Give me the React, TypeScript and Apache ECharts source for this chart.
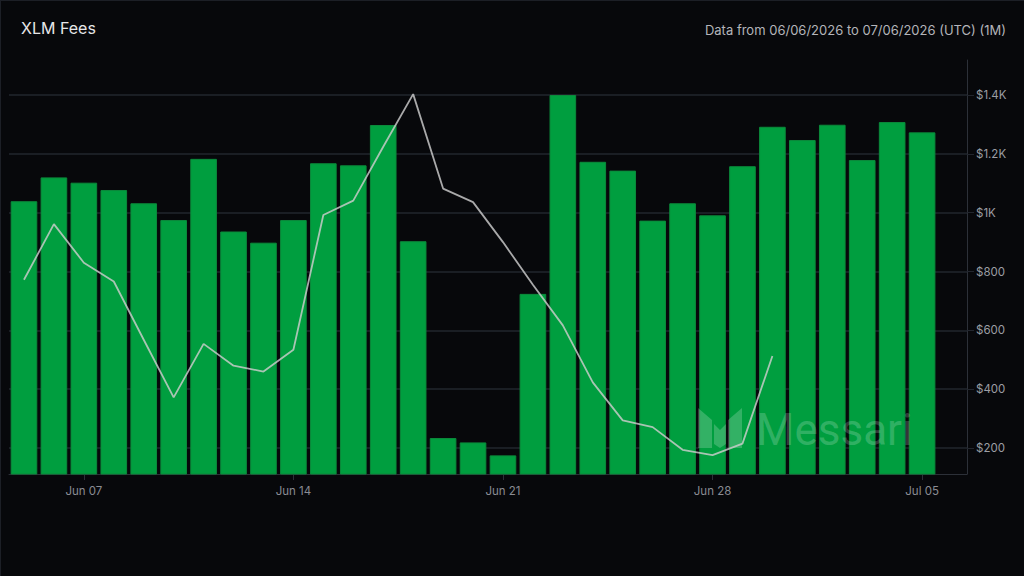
import React, { useEffect, useRef } from "react";
import * as echarts from "echarts";

const dates = [
  "Jun 05", "Jun 06", "Jun 07", "Jun 08", "Jun 09", "Jun 10", "Jun 11", "Jun 12",
  "Jun 13", "Jun 14", "Jun 15", "Jun 16", "Jun 17", "Jun 18", "Jun 19", "Jun 20",
  "Jun 21", "Jun 22", "Jun 23", "Jun 24", "Jun 25", "Jun 26", "Jun 27", "Jun 28",
  "Jun 29", "Jun 30", "Jul 01", "Jul 02", "Jul 03", "Jul 04", "Jul 05", "Jul 06",
];

const fees = [
  1039, 1120, 1102, 1077, 1032, 975, 1183, 936, 898, 975, 1168, 1161, 1298, 903,
  234, 219, 175, 724, 1400, 1173, 1143, 973, 1032, 991, 1158, 1292, 1247, 1299,
  1179, 1308, 1273, null,
];

const trend = [
  772, 961, 830, 766, 568, 372, 554, 480, 460, 534, 992, 1041, 1224, 1403, 1082,
  1036, 900, 755, 617, 423, 294, 271, 194, 176, 215, 513, null, null, null, null,
  null, null,
];

const xLabelDates = ["Jun 07", "Jun 14", "Jun 21", "Jun 28", "Jul 05"];
const yTickValues = [200, 400, 600, 800, 1000, 1200, 1400];
const yMin = 111.7;
const yMax = 1519;

const titleText = "XLM Fees";
const rangeText = "Data from 06/06/2026 to 07/06/2026 (UTC) (1M)";
const watermarkText = "Messari";

const logoPath =
  "M0 0 L14 12 L14 40 L0 40 Z M44 0 L44 40 L30 40 L30 12 Z M16 16 L22 22 L28 16 L28 36 L22 40 L16 36 Z";

let logoRegistered = false;
function registerLogo() {
  if (logoRegistered) return;
  echarts.graphic.registerShape(
    "messariLogo",
    echarts.graphic.extendPath(logoPath, {}) as any
  );
  logoRegistered = true;
}

function fmtY(v: number) {
  if (v >= 1000) {
    const k = v / 1000;
    return "$" + (Number.isInteger(k) ? k.toString() : k.toFixed(1)) + "K";
  }
  return "$" + v;
}

export default function App() {
  const ref = useRef<HTMLDivElement>(null);

  useEffect(() => {
    registerLogo();
    const chart = echarts.init(ref.current!, null, { renderer: "svg" });
    const font = "Inter, 'Noto Sans', sans-serif";
    const showIdx = (i: number) => xLabelDates.indexOf(dates[i]) >= 0;
    chart.setOption({
      animation: false,
      backgroundColor: "#07080b",
      textStyle: { fontFamily: font },
      title: [
        {
          text: titleText,
          left: 21,
          top: 20,
          padding: 0,
          textStyle: { color: "#e6e6e8", fontSize: 16, fontWeight: 400, fontFamily: font },
        },
        {
          text: rangeText,
          right: 18,
          top: 23,
          padding: 0,
          textStyle: { color: "#b4b5ba", fontSize: 13, fontWeight: 400, fontFamily: font },
        },
      ],
      grid: { left: 9, right: 57, top: 60, bottom: 102 },
      xAxis: {
        type: "category",
        data: dates,
        axisLine: { show: true, lineStyle: { color: "#2c3038", width: 1 } },
        axisTick: {
          show: true,
          alignWithLabel: true,
          interval: (i: number) => showIdx(i),
          length: 6,
          lineStyle: { color: "#2c3038" },
        },
        axisLabel: {
          interval: (i: number) => showIdx(i),
          color: "#8a8c93",
          fontSize: 11.5,
          margin: 11,
          fontFamily: font,
        },
        splitLine: { show: false },
      },
      yAxis: {
        type: "value",
        position: "right",
        min: yMin,
        max: yMax,
        axisLine: { show: true, lineStyle: { color: "#2c3038", width: 1 } },
        axisTick: {
          show: true,
          customValues: yTickValues,
          length: 7,
          lineStyle: { color: "#22262e" },
        },
        axisLabel: {
          customValues: yTickValues,
          formatter: (v: number) => fmtY(v),
          color: "#9c9ea4",
          fontSize: 11.5,
          margin: 9,
          fontFamily: font,
        },
        splitLine: { show: true, lineStyle: { color: "#22262e", width: 1.5 } },
      },
      series: [
        {
          type: "bar",
          name: "Fees",
          data: fees,
          barCategoryGap: "11%",
          itemStyle: { color: "#009e3f", borderColor: "#0b8a3b", borderWidth: 1 },
          z: 2,
        },
        {
          type: "line",
          name: "Trend",
          data: trend,
          showSymbol: false,
          symbol: "none",
          lineStyle: { color: "rgba(205,205,205,0.82)", width: 1.8 },
          z: 4,
        },
      ],
      graphic: [
        { type: "line", shape: { x1: 0, y1: 0.5, x2: 1024, y2: 0.5 }, style: { stroke: "#1c1f26", lineWidth: 1 }, silent: true },
        { type: "line", shape: { x1: 0.5, y1: 0, x2: 0.5, y2: 576 }, style: { stroke: "#1c1f26", lineWidth: 1 }, silent: true },
        {
          type: "messariLogo",
          x: 698,
          y: 408,
          style: { fill: "rgba(255,255,255,0.2)" },
          z: 3,
          silent: true,
        },
        {
          type: "text",
          x: 756,
          y: 430,
          z: 3,
          silent: true,
          style: {
            text: watermarkText,
            fontSize: 44,
            fontFamily: "Roboto, sans-serif",
            fill: "rgba(255,255,255,0.2)",
            verticalAlign: "middle",
            align: "left",
          },
        },
      ],
    });
    return () => chart.dispose();
  }, []);

  return (
    <div style={{ position: "fixed", left: 0, top: 0, width: 1024, height: 576, background: "#07080b" }}>
      <div ref={ref} style={{ width: 1024, height: 576 }} />
    </div>
  );
}
